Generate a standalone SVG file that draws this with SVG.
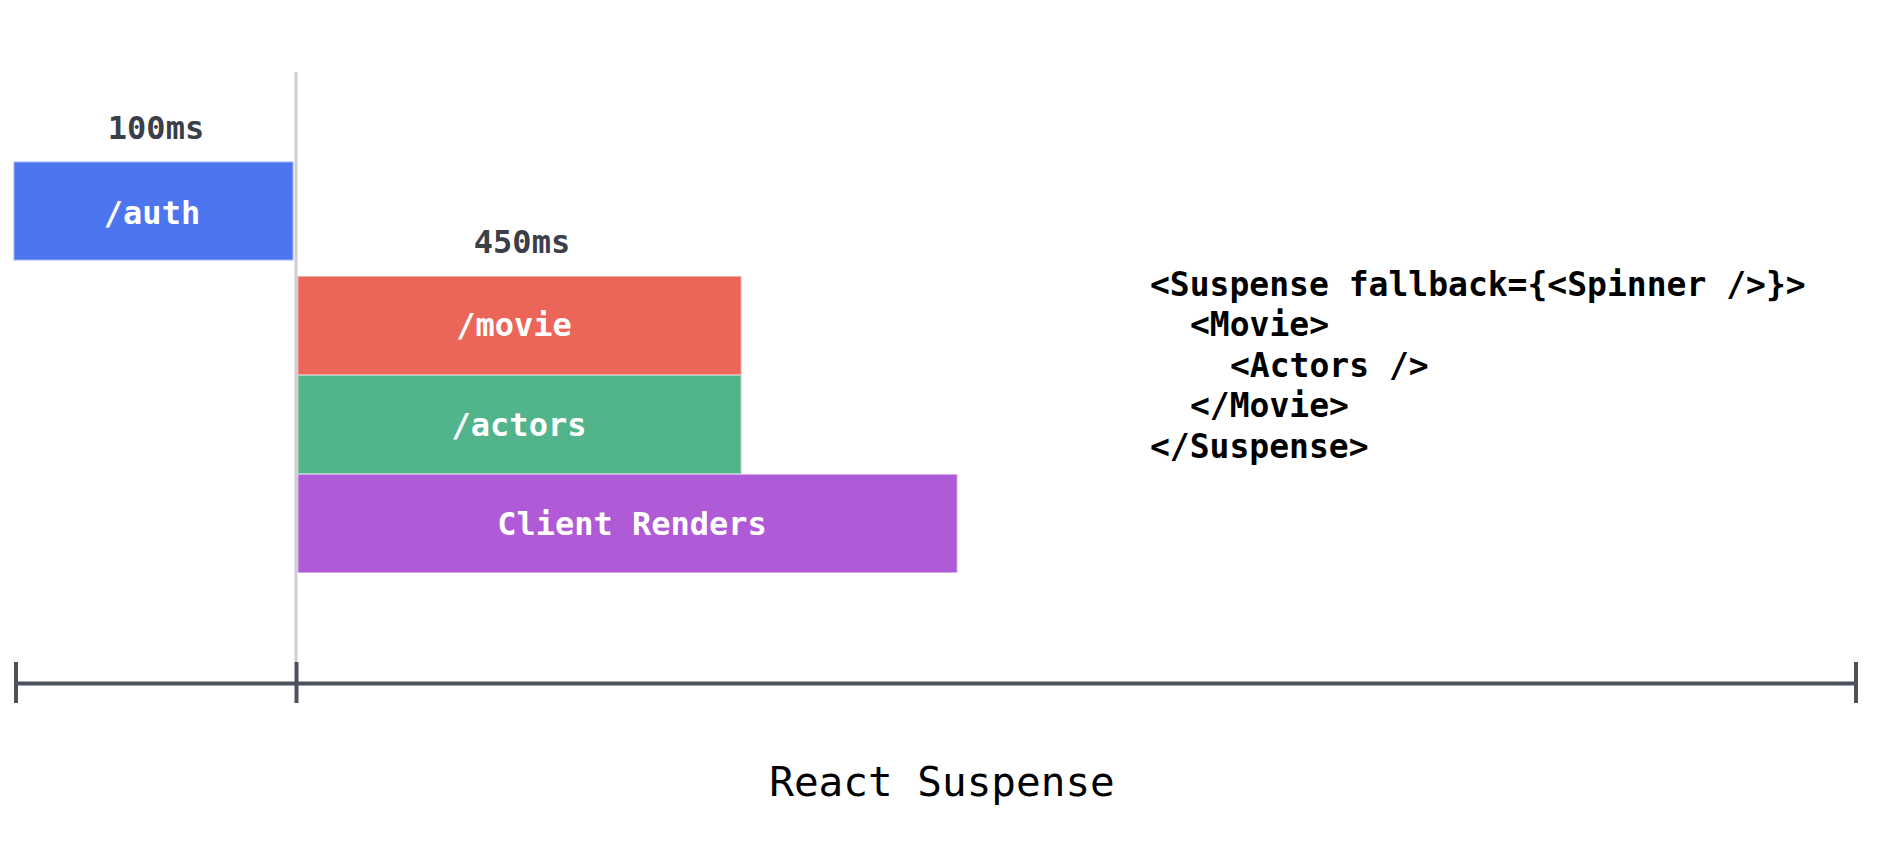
<svg xmlns="http://www.w3.org/2000/svg" width="1878" height="844" viewBox="0 0 1878 844">
<style>
.lbl{font-family:"DejaVu Sans Mono","Liberation Mono",monospace;font-size:32px;text-anchor:middle}
.ms{fill:#3b4048;font-weight:bold}
.bar{fill:#ffffff;font-weight:bold}
.code{font-family:"DejaVu Sans Mono","Liberation Mono",monospace;font-size:33px;font-weight:bold;fill:#000}
.title{font-family:"DejaVu Sans Mono","Liberation Mono",monospace;font-size:41px;fill:#000;text-anchor:middle}
.axis{stroke:#4b525b;stroke-width:4;fill:none}
</style>
<rect width="1878" height="844" fill="#ffffff"/>
<g id="guide">
<line x1="296" y1="72" x2="296" y2="662" stroke="#cfcfd3" stroke-width="3"/>
</g>
<g id="auth">
<text class="lbl ms" x="156" y="139">100ms</text>
<rect x="14" y="162" width="279" height="98" fill="#4d75ef" stroke="#9fb5f6" stroke-width="1"/>
<text class="lbl bar" x="152" y="224">/auth</text>
</g>
<g id="movie">
<text class="lbl ms" x="522" y="253">450ms</text>
<rect x="298" y="276.5" width="443" height="98" fill="#eb6558" stroke="#f4a79f" stroke-width="1"/>
<text class="lbl bar" x="514" y="336">/movie</text>
</g>
<g id="actors">
<rect x="298" y="375.5" width="443" height="98" fill="#52b48a" stroke="#a2d8c0" stroke-width="1"/>
<text class="lbl bar" x="519" y="436">/actors</text>
</g>
<g id="client">
<rect x="298" y="474.5" width="659" height="98" fill="#af5ad6" stroke="#d9a9ef" stroke-width="1"/>
<text class="lbl bar" x="632" y="535">Client Renders</text>
</g>
<g id="code">
<text class="code">
<tspan x="1150" y="296">&lt;Suspense fallback={&lt;Spinner /&gt;}&gt;</tspan>
<tspan x="1190" y="336">&lt;Movie&gt;</tspan>
<tspan x="1230" y="377">&lt;Actors /&gt;</tspan>
<tspan x="1190" y="417">&lt;/Movie&gt;</tspan>
<tspan x="1150" y="458">&lt;/Suspense&gt;</tspan>
</text>
</g>
<g id="connectors">
<line class="axis" x1="16" y1="683.5" x2="1856" y2="683.5"/>
<line class="axis" x1="16" y1="662" x2="16" y2="703"/>
<line class="axis" x1="296.5" y1="662" x2="296.5" y2="703"/>
<line class="axis" x1="1856" y1="662" x2="1856" y2="703"/>
</g>
<g id="title">
<text class="title" x="942" y="796">React Suspense</text>
</g>
</svg>
